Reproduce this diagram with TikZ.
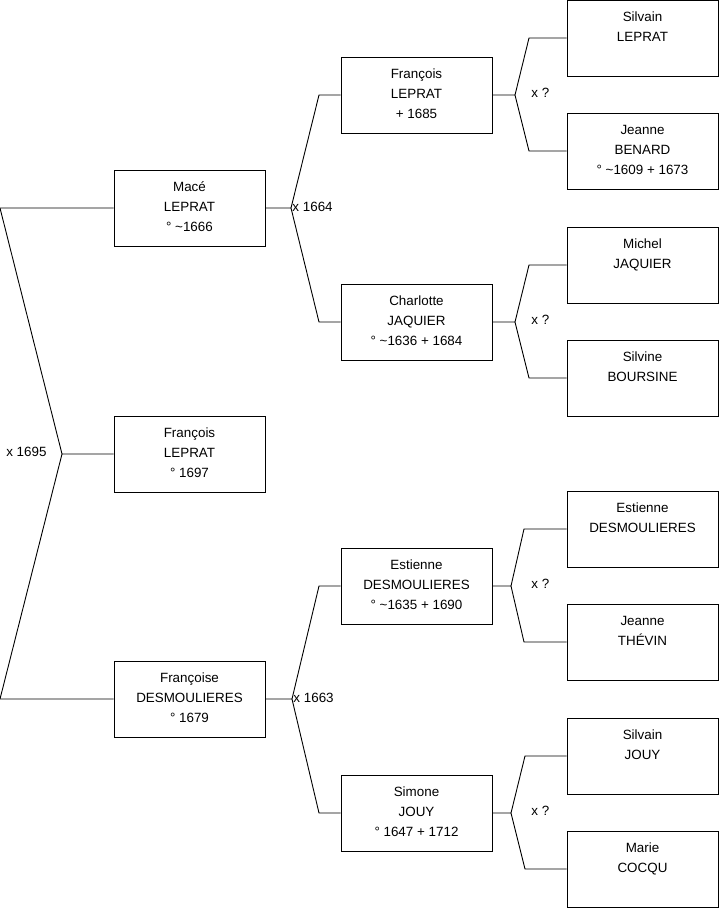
\documentclass[tikz,border=0pt]{standalone}
\usepackage{fontspec}
\setmainfont{Liberation Sans}
\usetikzlibrary{positioning}
\newcommand{\fiche}[1]{\parbox[c][76pt][t]{151pt}{\centering\rule{0pt}{21pt}#1}}
\newcommand{\ca}{\textasciitilde}

\begin{document}
\begin{tikzpicture} [x=1pt,y=-1pt,line width=0.9pt,%
node distance=227pt,on grid,font=\fontsize{13.4}{20}\selectfont,
person/.style={draw,inner sep=0pt,minimum width=151pt,minimum height=76pt},
mariage/.style={inner sep=1pt}]
\useasboundingbox (0,0) rectangle (719,908);
% enfant et parents
\node[person] (F) at (189.5,454) {\fiche{François\\LEPRAT\\° 1697}};
\node[person] (P) [above=246pt of F] {\fiche{Macé\\LEPRAT\\° \ca1666}};
\node[person] (M) [below=245pt of F] {\fiche{Françoise\\DESMOULIERES\\° 1679}};
% grands-parents
\node[person] (PP) [above right=113pt and 227pt of P] {\fiche{François\\LEPRAT\\+ 1685}};
\node[person] (PM) [below right=114pt and 227pt of P] {\fiche{Charlotte\\JAQUIER\\° \ca1636 + 1684}};
\node[person] (MP) [above right=113pt and 227pt of M] {\fiche{Estienne\\DESMOULIERES\\° \ca1635 + 1690}};
\node[person] (MM) [below right=114pt and 227pt of M] {\fiche{Simone\\JOUY\\° 1647 + 1712}};
% arriere-grands-parents
\node[person] (PPP) [above right=57pt and 226pt of PP] {\fiche{Silvain\\LEPRAT}};
\node[person] (PPM) [below right=56pt and 226pt of PP] {\fiche{Jeanne\\BENARD\\° \ca1609 + 1673}};
\node[person] (PMP) [above right=57pt and 226pt of PM] {\fiche{Michel\\JAQUIER}};
\node[person] (PMM) [below right=56pt and 226pt of PM] {\fiche{Silvine\\BOURSINE}};
\node[person] (MPP) [above right=57pt and 226pt of MP] {\fiche{Estienne\\DESMOULIERES}};
\node[person] (MPM) [below right=56pt and 226pt of MP] {\fiche{Jeanne\\THÉVIN}};
\node[person] (MMP) [above right=57pt and 226pt of MM] {\fiche{Silvain\\JOUY}};
\node[person] (MMM) [below right=56pt and 226pt of MM] {\fiche{Marie\\COCQU}};
% points des accolades
\coordinate (a0) at (0,208);  \coordinate (x0) at (62,454);  \coordinate (b0) at (0,699);
\coordinate (xP) at (291,208); \coordinate (aP) at (319,95);  \coordinate (bP) at (319,322);
\coordinate (xM) at (292,699); \coordinate (aM) at (319,586); \coordinate (bM) at (319,813);
\coordinate (xPP) at (515,95);  \coordinate (aPP) at (529,38);  \coordinate (bPP) at (529,151);
\coordinate (xPM) at (515,322); \coordinate (aPM) at (529,265); \coordinate (bPM) at (529,378);
\coordinate (xMP) at (511,586); \coordinate (aMP) at (524,529); \coordinate (bMP) at (524,642);
\coordinate (xMM) at (511,813); \coordinate (aMM) at (525,756); \coordinate (bMM) at (525,869);
\draw (P.west) -- (a0) -- (x0) -- (b0) -- (M.west) (x0) -- (F.west);
\foreach \c in {P,M,PP,PM,MP,MM}
  \draw (\c.east) -- (x\c) -- (a\c) -- (\c P.west) (x\c) -- (b\c) -- (\c M.west);
% mariages
\node[mariage,anchor=east] (m0) at ([shift={(-14pt,2pt)}]x0) {x 1695};
\node[mariage,anchor=west] (mP) at ([yshift=1pt]xP) {x 1664};
\node[mariage,anchor=west] (mM) at ([yshift=1pt]xM) {x 1663};
\node[mariage,anchor=west] (mPP) at ([shift={(15pt,2pt)}]xPP) {x ?};
\node[mariage,anchor=west] (mPM) at ([shift={(15pt,2pt)}]xPM) {x ?};
\node[mariage,anchor=west] (mMP) at ([shift={(19pt,2pt)}]xMP) {x ?};
\node[mariage,anchor=west] (mMM) at ([shift={(19pt,2pt)}]xMM) {x ?};
\end{tikzpicture}
\end{document}
